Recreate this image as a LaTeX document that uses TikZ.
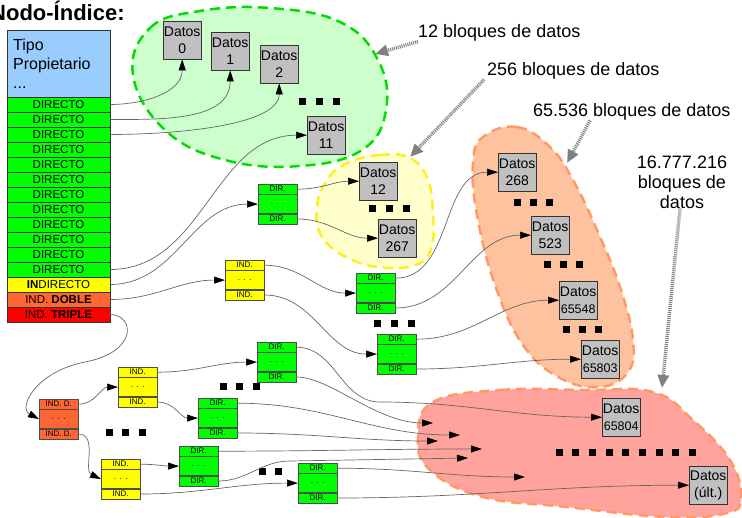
\documentclass[tikz,border=0pt]{standalone}
\usepackage{fontspec}
\setmainfont{Liberation Sans}
\usepackage{tikz}
\usetikzlibrary{arrows.meta}
\definecolor{verde}{HTML}{00FF00}
\definecolor{amarillo}{HTML}{FFFF00}
\definecolor{naranja}{HTML}{FF6633}
\definecolor{rojo}{HTML}{FF0000}
\definecolor{azul}{HTML}{99CCFF}
\definecolor{gris}{HTML}{C0C0C0}
\definecolor{verdeclaro}{HTML}{CCFFCC}
\definecolor{verdeborde}{HTML}{00DD00}
\definecolor{amarilloclaro}{HTML}{FFFFCC}
\definecolor{amarilloborde}{HTML}{FFEE22}
\definecolor{naranjaclaro}{HTML}{FFC29E}
\definecolor{naranjaborde}{HTML}{FF9966}
\definecolor{salmon}{HTML}{FFA39C}
\definecolor{gristexto}{HTML}{808080}
\tikzset{%
    fila/.style={draw=black!80, minimum width=103pt, minimum height=15pt, inner sep=0pt, font=\fontsize{11.5}{13}\selectfont},
    tira/.style={draw=black!70, minimum width=39pt, minimum height=10pt, inner sep=0pt, font=\fontsize{8}{9}\selectfont},
    centro/.style={tira, minimum height=19pt},
    datos/.style={draw=black!80, fill=gris, minimum width=38pt, minimum height=38pt, inner sep=0pt, align=center, font=\fontsize{14}{17}\selectfont},
    flecha/.style={draw=black!60, line width=0.7pt, -{Triangle[length=11pt,width=7pt,color=black]}},
    etiqueta/.style={inner sep=0pt, font=\fontsize{18}{20}\selectfont},
    puntero/.style={draw=gristexto, line width=3.5pt, dash pattern=on 1pt off 1pt, -{Triangle[length=13pt,width=11pt]}},
    burbuja/.style={line width=2.5pt, dash pattern=on 10pt off 6pt}
}
% bloque de punteros: nombre, x, y (esquina), color, texto
\newcommand{\bloque}[5]{%
    \node[tira, fill=#4, anchor=north west] (#1-t) at (#2,-#3) {#5};
    \node[centro, fill=#4, anchor=north] (#1-m) at (#1-t.south) {.\hspace{3.5pt}.\hspace{3.5pt}.};
    \node[tira, fill=#4, anchor=north] (#1-b) at (#1-m.south) {#5};
}
% cuadraditos negros: x, y, cantidad, paso
\newcommand{\cuadros}[4]{%
    \foreach \k in {1,...,#3}
        \fill ({#1+(\k-1)*#4-3.5},{-#2-3.5}) rectangle ++(7,7);
}

\begin{document}
\begin{tikzpicture}[x=1pt,y=1pt]
    \useasboundingbox (0,0) rectangle (742,-518);
    % zonas de bloques
    \filldraw[burbuja, fill=verdeclaro, draw=verdeborde] plot[smooth cycle, tension=0.7] coordinates {(133,-75) (150,-28) (200,-11) (270,-8) (340,-22) (378,-60) (386,-110) (362,-150) (300,-166) (225,-160) (165,-130)};
    \filldraw[burbuja, fill=amarilloclaro, draw=amarilloborde] plot[smooth cycle, tension=0.7] coordinates {(347,-163) (380,-155) (410,-158) (428,-180) (433,-215) (432,-245) (420,-263) (387,-268) (350,-259) (322,-237) (317,-207) (327,-180)};
    \filldraw[burbuja, fill=naranjaclaro, draw=naranjaborde] plot[smooth cycle, tension=0.7] coordinates {(483,-137) (517,-127) (550,-147) (573,-180) (597,-230) (620,-287) (633,-340) (628,-372) (600,-387) (560,-378) (523,-345) (495,-285) (477,-215) (473,-163)};
    \filldraw[burbuja, fill=salmon, draw=naranjaborde] plot[smooth cycle, tension=0.7] coordinates {(433,-402) (500,-390) (583,-390) (653,-392) (693,-420) (730,-460) (741,-497) (727,-513) (667,-517) (567,-507) (483,-497) (430,-470) (418,-437)};

    % nodo-indice
    \node[anchor=base west, inner sep=0pt, font=\bfseries\fontsize{22}{26}\selectfont] (titulo) at (-10,-21) {Nodo-Índice:};
    \node[draw=black!80, fill=azul, minimum width=103pt, minimum height=67pt, text width=91pt, inner xsep=6pt, align=left, anchor=north west, font=\fontsize{16}{19}\selectfont] (cab) at (7,-30) {Tipo\\Propietario\\...};
    \foreach \i in {1,...,12}
        \node[fila, fill=verde] (d\i) at (58.5,{-89.5-15*\i}) {DIRECTO};
    \node[fila, fill=amarillo] (ind) at (58.5,-284.5) {\textbf{IN}DIRECTO};
    \node[fila, fill=naranja] (dob) at (58.5,-299.5) {IND. \textbf{DOBLE}};
    \node[fila, fill=rojo] (tri) at (58.5,-314.5) {IND. \textbf{TRIPLE}};

    % bloques de datos
    \node[datos, anchor=north west] (D0) at (163,-21) {Datos\\0};
    \node[datos, anchor=north west] (D1) at (211,-32) {Datos\\1};
    \node[datos, anchor=north west] (D2) at (260,-45) {Datos\\2};
    \node[datos, anchor=north west] (D11) at (307,-116) {Datos\\11};
    \node[datos, anchor=north west] (D12) at (359,-162) {Datos\\12};
    \node[datos, anchor=north west] (D267) at (378,-219) {Datos\\267};
    \node[datos, anchor=north west] (D268) at (498,-153) {Datos\\268};
    \node[datos, anchor=north west] (D523) at (531,-216) {Datos\\523};
    \node[datos, anchor=north west] (D65548) at (559,-281) {Datos\\{\fontsize{12.5}{14}\selectfont 65548}};
    \node[datos, anchor=north west] (D65803) at (581,-340) {Datos\\{\fontsize{12.5}{14}\selectfont 65803}};
    \node[datos, anchor=north west] (D65804) at (602,-398) {Datos\\{\fontsize{12.5}{14}\selectfont 65804}};
    \node[datos, anchor=north west] (Dult) at (689,-466) {Datos\\(últ.)};

    % bloques de punteros
    \bloque{s1}{258}{184}{verde}{DIR.}
    \bloque{b1}{225}{260}{amarillo}{IND.}
    \bloque{b2a}{356}{273}{verde}{DIR.}
    \bloque{b2b}{377}{334}{verde}{DIR.}
    \bloque{t1}{39}{399}{naranja}{IND. D.}
    \bloque{t2a}{118}{367}{amarillo}{IND.}
    \bloque{t2b}{101}{459}{amarillo}{IND.}
    \bloque{t3a}{257}{342}{verde}{DIR.}
    \bloque{t3b}{198}{398}{verde}{DIR.}
    \bloque{t3c}{179}{446}{verde}{DIR.}
    \bloque{t3d}{298}{463}{verde}{DIR.}

    % puntos suspensivos
    \cuadros{302}{102}{3}{17}
    \cuadros{372}{209}{3}{17}
    \cuadros{377}{324}{3}{17}
    \cuadros{517}{203}{3}{16}
    \cuadros{547}{265}{3}{16}
    \cuadros{566}{330}{3}{16}
    \cuadros{109}{433}{3}{16.5}
    \cuadros{223}{387}{3}{16.5}
    \cuadros{262}{472}{2}{16}
    \cuadros{559}{453}{9}{16.7}

    % punteros directos e indirectos
    \draw[flecha] (d1.east) to[out=0,in=-90] (D0.south);
    \draw[flecha] (d2.east) to[out=0,in=-90] (D1.south);
    \draw[flecha] (d3.east) to[out=0,in=-90,in looseness=0.6] (D2.south);
    \draw[flecha] (d12.east) to[out=0,in=180] (D11.west);
    \draw[flecha] (ind.east) to[out=0,in=180] (s1-m.west);
    \draw[flecha] (dob.east) to[out=0,in=180] (b1-m.west);
    \draw[flecha] (tri.east) .. controls (135,-315) and (138,-352) .. (85,-362) .. controls (35,-372) and (18,-408) .. (t1-m.west);
    \draw[flecha] (s1-t.east) to[out=0,in=180] (D12.west);
    \draw[flecha] (s1-b.east) to[out=0,in=180] (D267.west);
    \draw[flecha] (b1-t.east) to[out=0,in=180] (b2a-m.west);
    \draw[flecha] (b1-b.east) to[out=0,in=180] (b2b-m.west);
    \draw[flecha] (b2a-t.east) to[out=0,in=180] (D268.west);
    \draw[flecha] (b2a-b.east) to[out=0,in=180] (D523.west);
    \draw[flecha] (b2b-t.east) to[out=0,in=180] (D65548.west);
    \draw[flecha] (b2b-b.east) to[out=0,in=180] (D65803.west);
    \draw[flecha] (t1-t.east) to[out=0,in=180] (t2a-m.west);
    \draw[flecha] (t1-b.east) to[out=0,in=155] (t2b-m.west);
    \draw[flecha] (t2a-t.east) to[out=0,in=180] (t3a-m.west);
    \draw[flecha] (t2a-b.east) to[out=0,in=180] (t3b-m.west);
    \draw[flecha] (t2b-t.east) to[out=0,in=180] (t3c-m.west);
    \draw[flecha] (t2b-b.east) to[out=0,in=180] (t3d-m.west);

    % hacia la zona de 16.777.216 bloques
    \coordinate (r1) at (433,-423);
    \coordinate (r2) at (460,-435);
    \coordinate (r3) at (438,-441);
    \coordinate (r4) at (482,-449);
    \coordinate (r5) at (468,-458);
    \coordinate (r6) at (525,-477);
    \draw[flecha] (t3a-t.east) to[out=0,in=180] (380,-402) to[out=0,in=180] (D65804.west);
    \draw[flecha] (t3a-b.east) to[out=0,in=180,out looseness=0.6] (r1);
    \draw[flecha] (t3b-t.east) to[out=0,in=180] (r2);
    \draw[flecha] (t3b-b.east) to[out=0,in=180] (r3);
    \draw[flecha] (t3c-t.east) to[out=0,in=180] (r4);
    \draw[flecha] (t3c-b.east) to[out=0,in=180] (290,-461) -- (r5);
    \draw[flecha] (t3d-t.east) to[out=0,in=180] (r6);
    \draw[flecha] (t3d-b.east) to[out=0,in=180] (Dult.west);

    % etiquetas
    \node[etiqueta, anchor=west] (l12) at (418,-33) {12 bloques de datos};
    \node[etiqueta, anchor=west] (l256) at (487,-71) {256 bloques de datos};
    \node[etiqueta, anchor=west] (l65) at (533,-112) {65.536 bloques de datos};
    \node[etiqueta, align=center] (l16) at (682,-182) {16.777.216\\bloques de\\datos};
    \coordinate (p12) at (375,-54);
    \coordinate (p256) at (410,-157);
    \coordinate (p65) at (567,-163);
    \coordinate (p16) at (662,-388);
    \draw[puntero] (l12.south west) -- (p12);
    \draw[puntero] ([xshift=-3pt]l256.south west) -- (p256);
    \draw[puntero] ([xshift=57pt]l65.south west) -- (p65);
    \draw[puntero] ([xshift=-2pt]l16.south) -- (p16);
\end{tikzpicture}
\end{document}
